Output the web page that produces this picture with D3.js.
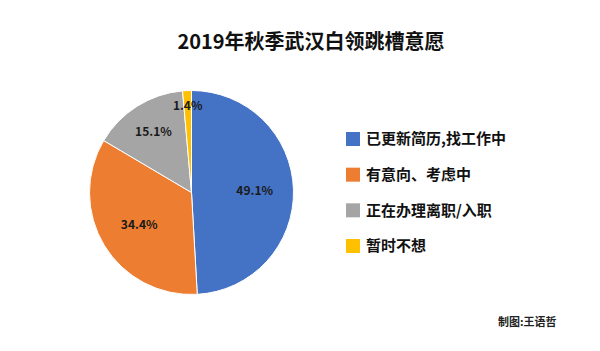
<!DOCTYPE html>
<html>
<head>
<meta charset="utf-8">
<script src="https://cdn.jsdelivr.net/npm/d3@7"></script>
<style>
  html, body { margin: 0; padding: 0; background: #fff; }
  svg { display: block; font-family: "Noto Sans CJK SC", "Noto Sans", sans-serif; }
</style>
</head>
<body>
<div id="chart"></div>
<script>
// 2019年秋季武汉白领跳槽意愿 - pie chart
const categories = ["已更新简历,找工作中", "有意向、考虑中", "正在办理离职/入职", "暂时不想"];
const values = [49.1, 34.4, 15.1, 1.4];
const colors = ["#4472C4", "#ED7D31", "#A5A5A5", "#FFC000"];
const title = "2019年秋季武汉白领跳槽意愿";
const credit = "制图:王语哲";

(function() {
  "use strict";
  const width = 600, height = 351;
  const cx = 191.5, cy = 192.5, radius = 102;
  // label distance from centre, as share of radius (Excel "best fit" placement)
  const labelRatio = [0.62, 0.6, 0.7, 0.85];

  const svg = d3.select("#chart").append("svg")
      .attr("width", width)
      .attr("height", height);

  svg.append("text")
      .attr("x", 311)
      .attr("y", 49)
      .attr("text-anchor", "middle")
      .attr("font-size", 20)
      .attr("font-weight", "bold")
      .attr("fill", "#111")
      .text(title);

  const data = categories.map((c, i) => ({ name: c, value: values[i], color: colors[i] }));
  const pie = d3.pie().sort(null).value(d => d.value);
  const arcs = pie(data);
  const arc = d3.arc().innerRadius(0).outerRadius(radius);

  const g = svg.append("g").attr("transform", `translate(${cx},${cy})`);

  g.selectAll("path")
    .data(arcs)
    .join("path")
      .attr("d", arc)
      .attr("fill", d => d.data.color)
      .attr("stroke", "#fff")
      .attr("stroke-width", 1);

  g.selectAll("text")
    .data(arcs)
    .join("text")
      .attr("transform", (d, i) => {
        const r = radius * labelRatio[i];
        const [x, y] = d3.arc().innerRadius(r).outerRadius(r).centroid(d);
        return `translate(${x},${y})`;
      })
      .attr("text-anchor", "middle")
      .attr("dy", "0.35em")
      .attr("font-size", 12)
      .attr("font-weight", "bold")
      .attr("fill", "#1a1a1a")
      .text(d => d.data.value.toFixed(1) + "%");

  // legend
  const legendY = d3.scalePoint().domain(categories).range([139, 246]);
  const legend = svg.append("g")
    .selectAll("g")
    .data(data)
    .join("g")
      .attr("transform", d => `translate(346,${legendY(d.name)})`);

  legend.append("rect")
      .attr("x", 0)
      .attr("y", -7)
      .attr("width", 14)
      .attr("height", 14)
      .attr("fill", d => d.color);

  legend.append("text")
      .attr("x", 20)
      .attr("dy", "0.36em")
      .attr("font-size", 15)
      .attr("font-weight", "bold")
      .attr("fill", "#111")
      .text(d => d.name);

  svg.append("text")
      .attr("x", 498)
      .attr("y", 326)
      .attr("font-size", 11)
      .attr("font-weight", "bold")
      .attr("fill", "#222")
      .text(credit);
})();
</script>
</body>
</html>
